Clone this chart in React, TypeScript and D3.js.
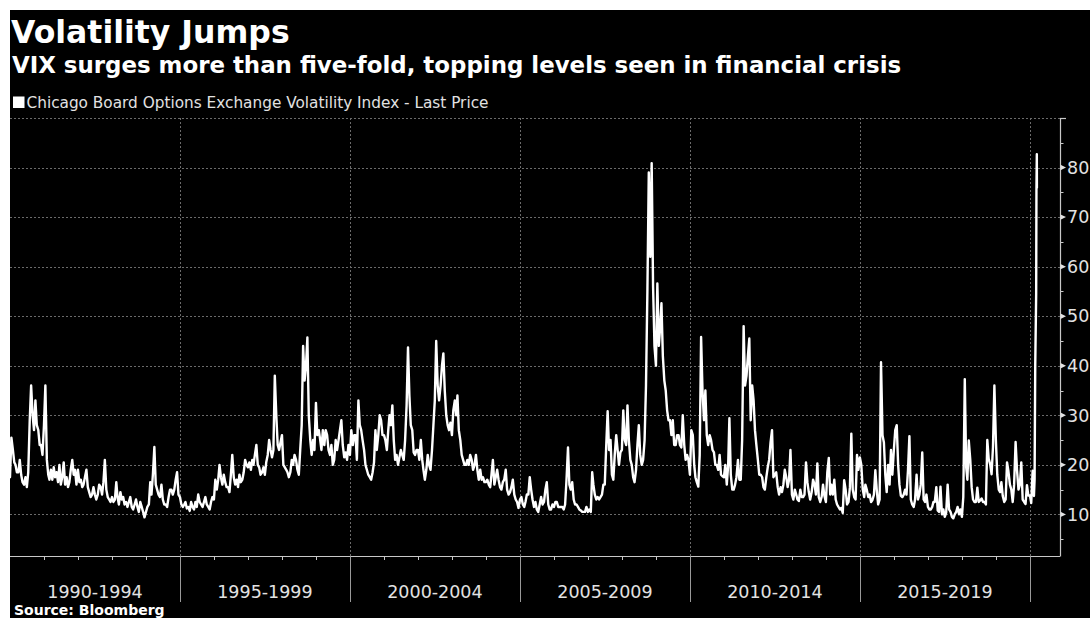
import React from "react";
import * as d3 from "d3";

// Semi-monthly VIX readings (1st and 16th of each month)
const vix1990s: number[] = [
  17.5, 25.5, 23, 20.5, 20, 18.5, 18.5, 21, 18, 16.5, 16, 17.5, 15.5, 18.5, 29, 36, 30, 27, 33, 28, 27, 24, 24, 22, // 1990
  28, 36, 21, 18, 17, 19, 17, 19.5, 17.5, 18.5, 16.5, 20, 16, 17.5, 20.5, 16, 17.5, 15.5, 16.5, 19, 21, 18, 19, 16, // 1991
  19, 16.5, 17, 15.5, 16, 17.5, 19, 15.5, 14.5, 13.5, 14, 15.5, 14, 13, 14, 16, 15.5, 14, 16.5, 21, 15, 13.5, 13, 12.5, // 1992
  13.5, 12.5, 13, 16.5, 13.5, 12, 14.5, 13, 13.5, 12, 12.5, 11.5, 12.5, 13.5, 11.5, 11, 12, 13, 11.5, 10.5, 12.5, 11.5, 10.5, 9.4, // 1993
  10.5, 11.5, 12, 16.5, 14, 18, 23.6, 16, 15, 14, 13.5, 16, 13, 12, 12, 11.5, 13.5, 15, 15, 14, 15, 17, 18.5, 14, // 1994
  13.5, 12, 11.5, 12, 12.5, 11.2, 11.5, 10.7, 12.5, 11.5, 11, 12.5, 11.5, 14, 12.5, 12, 11.5, 12.5, 13.5, 12, 11.5, 11, 12.5, 13.5, // 1995
  13, 17, 15, 17, 20, 17.5, 16, 18, 16.5, 15.5, 15.5, 14.5, 18, 22, 17.5, 16, 17, 15.5, 18, 16.5, 17, 18.5, 21, 20, // 1996
  19.5, 20.5, 19, 21, 20, 22, 24, 20, 19.5, 18, 18.5, 19.5, 18, 20.5, 22, 25, 23, 21.5, 23, 38, 30, 24, 23, 24.5, // 1997
  26, 20, 19.5, 19, 18.5, 17.5, 18.5, 21, 20, 22, 21, 19, 18, 23, 28, 44, 37, 40, 45.7, 30, 25, 22, 25, 23, // 1998
  32.5, 26, 27, 25, 23, 27, 24, 27, 26, 23, 22, 24, 20, 21, 25, 23, 25, 27, 29, 24, 21.5, 22.5, 21, 24, // 1999
];

const vix2000s: number[] = [
  22, 27, 24, 26, 26, 21, 33, 28, 27, 25, 23, 20, 19, 18, 17.5, 17, 18.5, 20.5, 27, 23, 26, 30, 29, 26, // 2000
  26, 25, 23, 27, 30, 28, 32, 25, 21, 22, 20, 21.5, 23, 22, 21, 25, 32, 43.7, 34, 28, 27, 22.5, 22, 23, // 2001
  23, 21, 25, 21, 19, 17, 19, 22, 20, 19, 23, 28, 33, 45, 36, 33, 36, 40, 42.5, 35, 30, 28, 27, 28.5, // 2002
  26, 31, 33, 30, 34, 27, 25, 22, 21, 20, 20, 21, 20, 22, 21, 19, 20, 22, 19, 17, 19, 17, 17.5, 16.5, // 2003
  16.5, 17, 16, 15.5, 18, 21, 16, 17.5, 19, 17, 15.5, 15, 16.5, 17, 19, 15, 14, 14.5, 15.5, 17, 14, 13, 12.5, 11.3, // 2004
  13, 13.5, 12, 11.5, 12.5, 14, 14, 17.5, 15, 13, 11.5, 12.5, 11, 10.5, 12, 13.5, 12, 12.5, 15, 16.5, 12, 11, 11, 12, // 2005
  11.5, 12.5, 12.5, 11.5, 11.5, 11.5, 11.5, 11, 12, 17, 23.5, 16, 15, 16.5, 13, 12, 12, 11.5, 11, 10.8, 10.5, 10.5, 10.5, 11.5, // 2006
  10.5, 11, 10.5, 18.5, 16, 14, 13, 13.5, 13, 13.5, 14, 16, 16, 23.5, 30.8, 23, 25, 18, 17, 22, 26, 23, 20, 22.5, // 2007
  23, 31, 25, 24, 32, 25, 21, 20, 17.5, 16.5, 19, 24, 28, 22, 20, 21, 25, 36, 55, 79, 62, 80.9, 56, 44, // 2008
  40, 56.6, 44, 48, 52.6, 42, 37, 35, 31, 29, 29, 26, 29, 24, 24, 26, 26, 24, 23.5, 30, 24, 21, 22, 21, // 2009
];

const vix2010s: number[] = [
  18, 27, 26, 20, 17.5, 16.5, 15.6, 22, 45.8, 35, 29, 35, 26, 24, 26, 25, 23, 22.5, 20, 20, 19, 22, 18, 17.7, // 2010
  17.5, 20, 16, 20, 29.4, 18, 15, 15, 16, 17.5, 21, 17, 17, 25, 48, 36, 38, 42, 45.5, 29, 36, 33, 27, 24, // 2011
  21, 18, 18, 17.5, 15.5, 15, 17.5, 19.5, 21, 24.5, 27, 17.5, 18, 18.5, 15.5, 14, 15.5, 14.5, 16, 19, 17.5, 15.5, 17, 23, // 2012
  14, 13, 15, 14, 13, 12.7, 15, 13.5, 13.5, 14, 20.5, 16.5, 14.5, 13, 14.5, 17, 16, 14, 20.3, 13.5, 12.5, 13.5, 16, 13.7, // 2013
  12.5, 18.5, 21.4, 14, 16, 14, 17, 13, 12, 11.5, 11, 11.3, 10.3, 16.9, 15, 12, 12.5, 15.5, 26.3, 15, 13.5, 13, 22, 19, // 2014
  21.5, 20, 15, 13.5, 16, 15, 13.5, 14, 12.5, 12.9, 14, 18.9, 15, 12, 13, 40.7, 26, 24.5, 18, 14.5, 20, 16, 23, 18, // 2015
  23, 27, 28, 20, 16, 13.8, 13.5, 14, 15, 14, 19, 25.8, 13, 12, 11.5, 13, 18, 13, 14, 16, 22.5, 13, 12.5, 14, // 2016
  11.5, 11, 11, 11.5, 12.5, 12.5, 15.5, 10.8, 10.5, 15.6, 10, 11, 9.5, 10.3, 16, 11, 10.5, 9.5, 9.2, 10, 10.5, 11.5, 10, 11, // 2017
  9.5, 13.5, 37.3, 19.5, 17, 24.9, 21, 15.5, 13, 12.5, 12.5, 15.4, 12.5, 12.8, 13.2, 12.5, 12.5, 12, 25, 21.2, 20.1, 18.1, 23.6, 36, // 2018
  25, 18, 15, 14.5, 16.5, 13.7, 12.5, 13, 20.5, 18.7, 16, 15, 12.5, 16, 24.6, 19, 15, 16, 20.5, 13, 12.5, 12.1, 15.9, 13.8, // 2019
];

// 2020 run-up, read point by point
const vix2020Dates: string[] = [
  "2020-01-02", "2020-01-16", "2020-01-31", "2020-02-14", "2020-02-21",
  "2020-02-28", "2020-03-09", "2020-03-12", "2020-03-16", "2020-03-17",
];
const vix2020Values: number[] = [13.8, 12.3, 18.8, 13.7, 17.1, 40.1, 54.5, 75.5, 82.7, 75.9];

const periodLabels: string[] = ["1990-1994", "1995-1999", "2000-2004", "2005-2009", "2010-2014", "2015-2019"];
const periodBoundaries: number[] = [1995, 2000, 2005, 2010, 2015, 2020];
const yearTicks: number[] = d3.range(1991, 2021);
const yMajorTicks: number[] = [10, 20, 30, 40, 50, 60, 70, 80];
const yMinorTicks: number[] = [5, 15, 25, 35, 45, 55, 65, 75, 85];

const W = 1090;
const H = 618;
const PL = 10;
const PR = 1060;
const PT = 118;
const PB = 556;
const FONT = "'DejaVu Sans', Verdana, sans-serif";

function toSemiMonthly(values: number[], startYear: number) {
  return values.map((v, i) => {
    const m = Math.floor(i / 2);
    return { date: new Date(startYear + Math.floor(m / 12), m % 12, i % 2 === 0 ? 1 : 16), value: v };
  });
}

export default function App() {
  const x = d3.scaleTime().domain([new Date(1990, 0, 1), new Date(2020, 10, 20)]).range([PL, PR]);
  const y = d3.scaleLinear().domain([1.6, 90]).range([PB, PT]);

  const data = [
    ...toSemiMonthly(vix1990s, 1990),
    ...toSemiMonthly(vix2000s, 2000),
    ...toSemiMonthly(vix2010s, 2010),
    ...vix2020Dates.map((d, i) => ({ date: d3.timeParse("%Y-%m-%d")(d) as Date, value: vix2020Values[i] })),
  ];

  const line = d3
    .line<{ date: Date; value: number }>()
    .x((d) => x(d.date))
    .y((d) => y(d.value));

  const crisp = (v: number) => Math.round(v) + 0.5;
  const gridColor = "#6a6a6a";
  const axisColor = "#c8c8c8";
  const labelColor = "#e2e2e2";

  const xs = periodBoundaries.map((yr) => x(new Date(yr, 0, 1)));
  const labelXs = periodLabels.map((_, i) => {
    const a = i === 0 ? PL : xs[i - 1];
    const b = xs[i];
    return (a + b) / 2;
  });

  return (
    <svg
      width={W}
      height={H}
      style={{ position: "absolute", left: 0, top: 0, display: "block" }}
      xmlns="http://www.w3.org/2000/svg"
    >
      <rect x={0} y={0} width={W} height={H} fill="#ffffff" />
      <rect x={10} y={10} width={W - 10} height={H - 10} fill="#000000" />

      <text x={11} y={43} fill="#ffffff" fontFamily={FONT} fontWeight="bold" fontSize={31.5}>
        Volatility Jumps
      </text>
      <text x={12} y={73} fill="#ffffff" fontFamily={FONT} fontWeight="bold" fontSize={22.9}>
        VIX surges more than five-fold, topping levels seen in financial crisis
      </text>

      <rect x={13} y={96.5} width={11.5} height={11.5} fill="#ffffff" />
      <text x={26.5} y={107.5} fill={labelColor} fontFamily={FONT} fontSize={15.3}>
        Chicago Board Options Exchange Volatility Index - Last Price
      </text>

      {/* grid */}
      <g>
        {[...yMajorTicks, 90].map((t) => (
          <line
            key={"hg" + t}
            x1={PL}
            x2={PR}
            y1={crisp(y(t))}
            y2={crisp(y(t))}
            stroke={gridColor}
            strokeDasharray="2,2"
            strokeWidth={1}
          />
        ))}
        {xs.map((xv, i) => (
          <line
            key={"vg" + i}
            x1={crisp(xv)}
            x2={crisp(xv)}
            y1={PT}
            y2={PB}
            stroke={gridColor}
            strokeDasharray="2,2"
            strokeWidth={1}
          />
        ))}
      </g>

      {/* series */}
      <path
        d={line(data) || ""}
        fill="none"
        stroke="#ffffff"
        strokeWidth={2.4}
        strokeLinejoin="round"
        strokeLinecap="round"
      />

      {/* x axis */}
      <line x1={PL} x2={PR} y1={crisp(PB)} y2={crisp(PB)} stroke={axisColor} strokeWidth={1.2} />
      {yearTicks
        .filter((yr) => !periodBoundaries.includes(yr))
        .map((yr) => {
          const xv = crisp(x(new Date(yr, 0, 1)));
          return <line key={"yt" + yr} x1={xv} x2={xv} y1={PB} y2={PB + 4} stroke={axisColor} strokeWidth={1} />;
        })}
      {xs.map((xv, i) => (
        <line key={"div" + i} x1={crisp(xv)} x2={crisp(xv)} y1={PB} y2={602} stroke="#9a9a9a" strokeWidth={1} />
      ))}
      {periodLabels.map((lab, i) => (
        <text
          key={lab}
          x={labelXs[i]}
          y={598}
          textAnchor="middle"
          fill={labelColor}
          fontFamily={FONT}
          fontSize={17.5}
        >
          {lab}
        </text>
      ))}

      {/* right y axis */}
      <line x1={crisp(PR)} x2={crisp(PR)} y1={PT} y2={crisp(PB)} stroke={axisColor} strokeWidth={1.2} />
      <line x1={PR} x2={PR + 6} y1={crisp(y(90))} y2={crisp(y(90))} stroke={axisColor} strokeWidth={1.2} />
      {yMinorTicks.map((t) => (
        <line key={"mt" + t} x1={PR} x2={PR + 3.5} y1={crisp(y(t))} y2={crisp(y(t))} stroke={axisColor} strokeWidth={1} />
      ))}
      {yMajorTicks.map((t) => {
        const yy = y(t);
        return (
          <g key={"Mt" + t}>
            <path d={`M${PR + 0.5},${yy - 2.7}L${PR + 6},${yy}L${PR + 0.5},${yy + 2.7}Z`} fill={labelColor} />
            <text x={1067} y={yy} dy="0.36em" fill={labelColor} fontFamily={FONT} fontSize={17.5}>
              {t}
            </text>
          </g>
        );
      })}

      <text x={14} y={614.5} fill="#ffffff" fontFamily={FONT} fontWeight="bold" fontSize={14}>
        Source: Bloomberg
      </text>
    </svg>
  );
}
